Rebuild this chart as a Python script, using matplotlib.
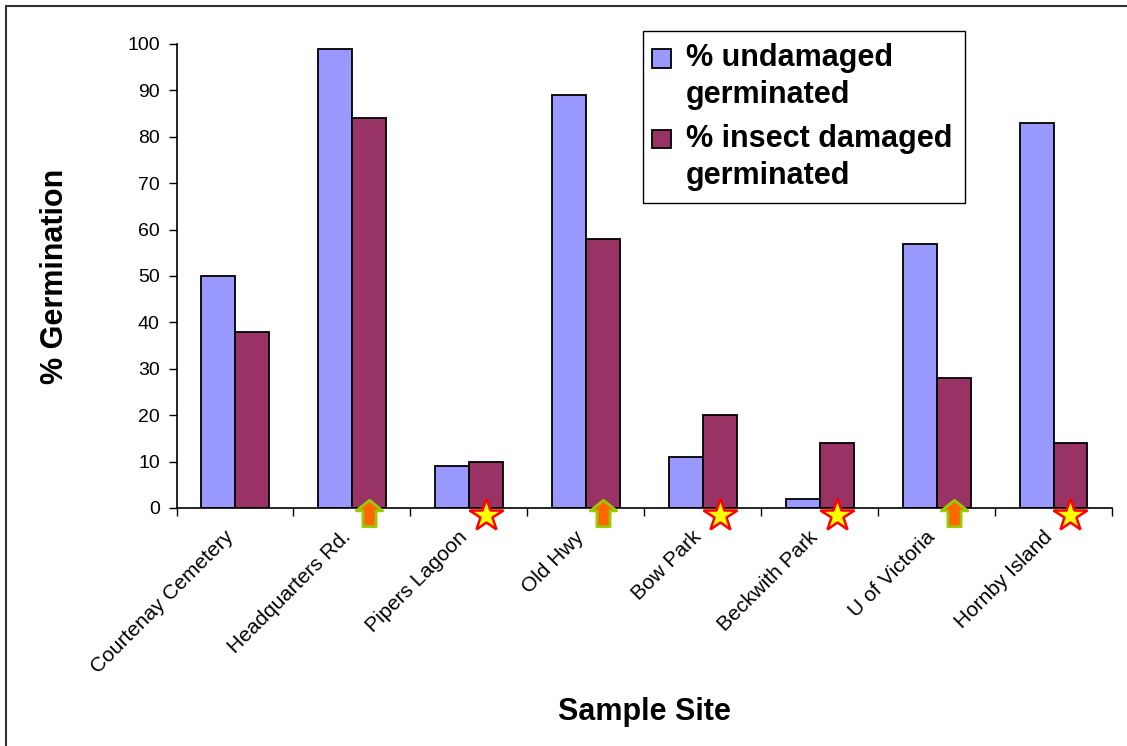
import matplotlib

matplotlib.use("Agg")
import matplotlib.pyplot as plt
import matplotlib.transforms as mtransforms
import numpy as np
from matplotlib.container import BarContainer
from matplotlib.legend_handler import HandlerPatch, update_from_first_child
from matplotlib.path import Path
from matplotlib.patches import Rectangle

plt.rcParams["font.family"] = ["Liberation Sans", "DejaVu Sans"]

sites = [
    "Courtenay Cemetery",
    "Headquarters Rd.",
    "Pipers Lagoon",
    "Old Hwy",
    "Bow Park",
    "Beckwith Park",
    "U of Victoria",
    "Hornby Island",
]
undamaged = [50, 99, 9, 89, 11, 2, 57, 83]
insect_damaged = [38, 84, 10, 58, 20, 14, 28, 14]
# site flags drawn under the damaged bar: "up" arrow or "star"
flags = ["", "up", "star", "up", "star", "star", "up", "star"]

# up-arrow marker shape
arrow = Path(
    [(-0.25, -0.5), (0.25, -0.5), (0.25, 0.1), (0.5, 0.1), (0.0, 0.5),
     (-0.5, 0.1), (-0.25, 0.1), (-0.25, -0.5)],
    [Path.MOVETO] + [Path.LINETO] * 6 + [Path.CLOSEPOLY],
)


def top_square(legend, orig_handle, xdescent, ydescent, width, height, fontsize):
    # small square aligned with the first line of a two-line label
    size = 0.6 * fontsize
    return Rectangle((-xdescent - 2, -ydescent + height - size * 0.8), size, size)


fig = plt.figure(figsize=(11.27, 7.46), dpi=100)
fig.patches.append(Rectangle((6 / 1127, -0.05), 1.2, 1.05 - 6 / 746,
                             transform=fig.transFigure, fill=False,
                             edgecolor="#333333", linewidth=1.5))
ax = fig.add_axes([176.5 / 1127, 1 - 508 / 746, 935.5 / 1127, 464 / 746])

x = np.arange(len(sites))
w = 0.29
ax.bar(x - w / 2, undamaged, w, color="#9999FF", edgecolor="black",
       linewidth=1.3, label="% undamaged\ngerminated")
ax.bar(x + w / 2, insect_damaged, w, color="#993366", edgecolor="black",
       linewidth=1.3, label="% insect damaged\ngerminated")

up_x = [xi + w / 2 for xi, f in zip(x, flags) if f == "up"]
star_x = [xi + w / 2 for xi, f in zip(x, flags) if f == "star"]
ax.plot(up_x, [-1.0] * len(up_x), linestyle="none", marker=arrow,
        markersize=19, markerfacecolor="#FF6600", markeredgecolor="#99CC00",
        markeredgewidth=2, clip_on=False, zorder=5)
ax.plot(star_x, [-1.6] * len(star_x), linestyle="none", marker="*",
        markersize=25, markerfacecolor="#FFFF00", markeredgecolor="#FF0000",
        markeredgewidth=1.8, clip_on=False, zorder=5)

ax.set_xlim(-0.5, len(sites) - 0.5)
ax.set_ylim(0, 100)
ax.set_yticks(range(0, 101, 10))
ax.tick_params(axis="y", labelsize=14, length=6, width=1, direction="out", pad=6)
ax.set_xticks(x)
ax.set_xticklabels(sites, rotation=45, ha="right", rotation_mode="anchor",
                   fontsize=15)
ax.tick_params(axis="x", length=0, pad=14)
shift = mtransforms.ScaledTranslation(-11 / 100, 0, fig.dpi_scale_trans)
for lbl in ax.get_xticklabels():
    lbl.set_transform(lbl.get_transform() + shift)
ax.set_xticks(np.arange(-0.5, len(sites), 1), minor=True)
ax.tick_params(axis="x", which="minor", length=6, width=1, direction="out")

for side in ["top", "right"]:
    ax.spines[side].set_visible(False)
for side in ["left", "bottom"]:
    ax.spines[side].set_linewidth(1.2)

ax.set_ylabel("% Germination", fontsize=22, fontweight="bold", labelpad=41)
ax.set_xlabel("Sample Site", fontsize=22, fontweight="bold", labelpad=14)

square_handler = HandlerPatch(patch_func=top_square,
                              update_func=update_from_first_child)
leg = ax.legend(loc="upper left", bbox_to_anchor=(643 / 1127, 1 - 31 / 746),
                bbox_transform=fig.transFigure,
                prop={"size": 22, "weight": "bold"},
                frameon=True, fancybox=False, edgecolor="black", framealpha=1,
                handlelength=0.65, handleheight=2.2, handletextpad=0.35,
                labelspacing=0.45, borderpad=0.4, borderaxespad=0,
                handler_map={BarContainer: square_handler})
for t in leg.get_texts():
    t.set_linespacing(1.3)

fig.savefig("out.png", dpi=100)
